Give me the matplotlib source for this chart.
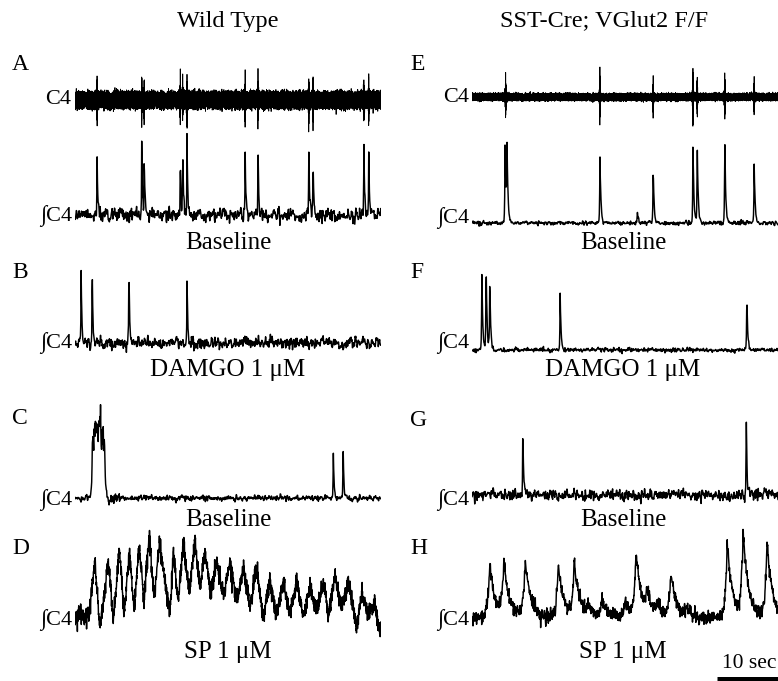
import numpy as np
import matplotlib.pyplot as plt

plt.rcParams['font.family'] = ['Liberation Serif', 'DejaVu Serif']

W, H = 778, 681
DUR = 50.0          # seconds shown in every trace
TRACE_W = 306       # px width of each trace

# ---------------- data (times in s, heights in a.u.) ----------------
# A  (wild type, baseline)
a_times = [3.6, 10.9, 11.3, 17.2, 17.6, 18.3, 27.8, 29.9, 38.2, 38.9, 47.2, 48.0]
a_heights = [72, 76, 68, 68, 65, 83, 67, 73, 68, 65, 77, 65]
a_raw_amp = [26, 28, 24, 26, 22, 30, 24, 26, 28, 26, 26, 24]

# B  (wild type, DAMGO)
b_times = [1.0, 2.8, 8.8, 18.3]
b_heights = [77, 77, 85, 67]

# C  (wild type, baseline)
c_times = [42.2, 43.8]
c_heights = [50, 56]
c_burst = (2.8, 4.9, 70)     # start, end, height

# D  (wild type, SP) - alternating troughs / peaks
d_peak_t = [3.27, 5.45, 7.24, 8.88, 10.51, 12.09, 13.78, 16.07, 17.70, 19.61, 21.24, 23.15,
            25.33, 27.51, 29.68, 31.86, 34.04, 36.22, 38.40, 40.58, 42.48, 44.66, 46.84, 49.02]
d_peak_h = [58, 60, 72, 68, 75, 87, 77, 67, 77, 82, 67, 60,
            58, 53, 52, 40, 40, 37, 35, 40, 45, 37, 28, 20]
d_trough_t = [4.08, 6.26, 8.01, 9.64, 11.27, 12.91, 15.52, 16.88, 18.68, 20.42, 22.17, 24.24,
              26.42, 28.59, 30.77, 32.95, 35.13, 37.31, 39.49, 41.39, 43.57, 46.02, 47.93, 49.56]
d_trough_h = [-8, 0, 5, 10, 15, 23, 5, 20, 28, 32, 27, 22,
              18, 13, 3, 3, 5, 3, 8, 2, 12, -8, 5, -10]
d_start_t = [0.0, 0.8, 1.6, 2.3]
d_start_h = [0, 8, 2, 6]

# E  (SST-Cre; VGlut2 F/F, baseline)
e_times = [5.4, 5.7, 20.9, 27.0, 29.6, 36.1, 36.8, 41.3, 46.1]
e_heights = [86, 86, 71, 13, 61, 81, 81, 91, 60]
e_raw_times = [5.5, 20.9, 29.6, 36.1, 36.8, 41.3, 46.1]
e_raw_amp = [26, 30, 20, 32, 22, 26, 20]

# F  (DAMGO)
f_times = [1.6, 2.3, 2.9, 14.4, 44.9]
f_heights = [85, 92, 72, 60, 57]

# G  (baseline)
g_times = [8.3, 44.8]
g_heights = [73, 90]

# H  (SP)
h_times = [2.9, 5.2, 8.7, 14.1, 16.7, 19.0, 21.2, 25.0, 26.8, 28.6, 30.3, 32.5, 35.0, 41.7, 44.3, 48.2]
h_heights = [56, 55, 60, 53, 57, 12, 18, 18, 66, 23, 12, 44, 10, 75, 84, 78]

rng = np.random.default_rng(7)


def bumps(t, times, heights, rise, decay):
    y = np.zeros_like(t)
    for t0, h in zip(times, heights):
        dt = t - t0
        y += h * np.where(dt < 0, np.exp(np.clip(dt / rise, -50, 0)),
                          np.exp(-np.clip(dt / decay, 0, 50)))
    return y


def noise(n, sd, smooth=1):
    z = rng.normal(0, sd, n)
    if smooth > 1:
        z = np.convolve(z, np.ones(smooth) / smooth, mode='same') * np.sqrt(smooth)
    return z


def raw_trace(t, times, amps, band, width=0.05):
    y = rng.uniform(-band, band, t.size) + rng.normal(0, band * 0.2, t.size)
    for t0, a in zip(times, amps):
        env = a * np.exp(-np.abs(t - t0) / width)
        y += env * np.sin(2 * np.pi * 45 * (t - t0) + 1.0)
    return y


fig = plt.figure(figsize=(W / 100, H / 100), dpi=100)


def trace_ax(x0, base_y, lo=-70, hi=110):
    ax = fig.add_axes([x0 / W, (H - base_y + lo) / H, TRACE_W / W, (hi - lo) / H])
    ax.set_xlim(0, DUR)
    ax.set_ylim(lo, hi)
    ax.axis('off')
    return ax


def label(x, y, s, size=16, ha='center'):
    fig.text(x / W, 1 - y / H, s, fontsize=size, ha=ha, va='center')


LX, RX = 75, 472
LW = 1.05
t_raw = np.linspace(0, DUR, 14000)
t = np.linspace(0, DUR, 900)

# ---- A ----
ax = trace_ax(LX, 100)
ax.plot(t_raw, raw_trace(t_raw, a_times, a_raw_amp, 8.0), color='k', lw=0.6)
ax = trace_ax(LX, 215)
ax.plot(t, bumps(t, a_times, a_heights, 0.04, 0.12) + noise(t.size, 3.4, 2), color='k', lw=LW)

# ---- B ----
ax = trace_ax(LX, 343)
ax.plot(t, bumps(t, b_times, b_heights, 0.04, 0.12) + noise(t.size, 2.9, 2), color='k', lw=LW)

# ---- C ----
ax = trace_ax(LX, 498)
cs, ce, ch = c_burst
plateau = ch / (1 + np.exp(-(t - cs) / 0.08)) / (1 + np.exp((t - ce) / 0.1))
yc = plateau + (plateau / ch) * noise(t.size, 9, 1)
yc += bumps(t, c_times, c_heights, 0.04, 0.12) + noise(t.size, 1.3, 2)
yc += np.where((t > ce) & (t < ce + 2.5), noise(t.size, 2.0, 1), 0)
ax.plot(t, yc, color='k', lw=LW)

# ---- D ----
ax = trace_ax(LX, 620)
kt = np.concatenate([d_start_t, d_peak_t, d_trough_t])
kh = np.concatenate([d_start_h, d_peak_h, d_trough_h])
order = np.argsort(kt)
td = np.linspace(0, DUR, 1800)
yd = np.interp(td, kt[order], kh[order]) + noise(td.size, 4.5, 1)
ax.plot(td, yd, color='k', lw=LW)

# ---- E ----
ax = trace_ax(RX, 97)
ax.plot(t_raw, raw_trace(t_raw, e_raw_times, e_raw_amp, 3.4, 0.06), color='k', lw=0.6)
ax = trace_ax(RX, 223)
ax.plot(t, bumps(t, e_times, e_heights, 0.05, 0.15) + noise(t.size, 1.0, 2), color='k', lw=LW)

# ---- F ----
ax = trace_ax(RX, 350)
ax.plot(t, bumps(t, f_times, f_heights, 0.05, 0.15) + noise(t.size, 1.0, 2), color='k', lw=LW)

# ---- G ----
ax = trace_ax(RX, 495)
ax.plot(t, bumps(t, g_times, g_heights, 0.04, 0.12) + noise(t.size, 2.6, 2), color='k', lw=LW)

# ---- H ----
ax = trace_ax(RX, 618)
th = np.linspace(0, DUR, 1200)
yh = bumps(th, h_times, h_heights, 0.3, 0.85) + noise(th.size, 3.3, 1)
ax.plot(th, yh, color='k', lw=LW)
# scale bar: 10 s
ax.plot([DUR - 10, DUR], [-60.5, -60.5], color='k', lw=3.6, solid_capstyle='butt')

# ---------------- text ----------------
label(228, 21, 'Wild Type', size=17.5)
label(604, 21, 'SST-Cre; VGlut2 F/F', size=17.5)

for s, x, y in [('A', 12, 65), ('B', 12, 273), ('C', 12, 418), ('D', 12, 548),
                ('E', 410, 65), ('F', 410, 273), ('G', 410, 420), ('H', 410, 548)]:
    label(x, y, s, size=17, ha='left')

label(71, 99, 'C4', ha='right')
label(469, 97, 'C4', ha='right')
for x, y in [(72, 216), (72, 343), (72, 500), (72, 620),
             (469, 218), (469, 343), (469, 500), (469, 620)]:
    label(x, y, '∫C4', ha='right')

for cx in (228, 623):
    label(cx, 243, 'Baseline', size=18)
    label(cx, 370, 'DAMGO 1 μM', size=18)
    label(cx, 520, 'Baseline', size=18)
    label(cx, 652, 'SP 1 μM', size=18)

label(749, 663, '10 sec', size=15.5)

fig.savefig('out.png', dpi=100)
